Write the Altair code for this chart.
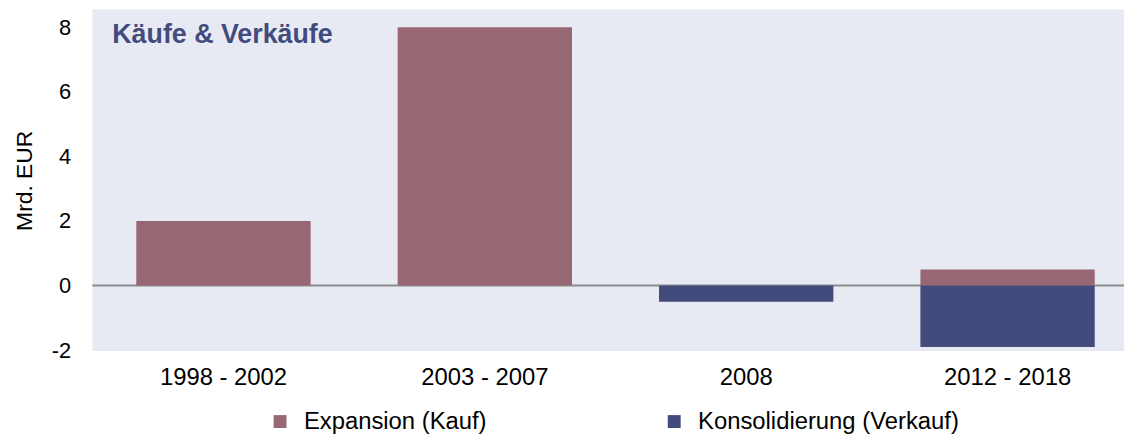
import altair as alt
import pandas as pd

categories = ["1998 - 2002", "2003 - 2007", "2008", "2012 - 2018"]
expansion = [2.0, 8.0, 0.0, 0.5]
konsolidierung = [0.0, 0.0, -0.5, -1.9]
series_names = ["Expansion (Kauf)", "Konsolidierung (Verkauf)"]
series_colors = ["#976873", "#434A7C"]
y_ticks = [-2, 0, 2, 4, 6, 8]

rows = []
for c, e, k in zip(categories, expansion, konsolidierung):
    rows.append({"cat": c, "series": series_names[0], "value": e})
    rows.append({"cat": c, "series": series_names[1], "value": k})
df = pd.DataFrame(rows)

FONT = "Liberation Sans"

x_enc = alt.X(
    "cat:N",
    sort=categories,
    scale=alt.Scale(paddingInner=0.333, paddingOuter=0.14, align=0.6),
    axis=alt.Axis(
        title=None, labelAngle=0, labelFontSize=24, labelColor="#000000",
        labelFont=FONT, tickSize=0, domain=False, labelPadding=15,
    ),
)
y_scale = alt.Scale(domain=[-2.03, 8.55], nice=False, zero=False)

bars = alt.Chart(df).mark_bar().encode(
    x=x_enc,
    y=alt.Y(
        "value:Q",
        stack=None,
        scale=y_scale,
        axis=alt.Axis(
            values=y_ticks, labelExpr="datum.value",
            title="Mrd. EUR", titleFontSize=23,
            titleFontWeight="normal", titleFont=FONT, titleColor="#000000",
            titleX=-68, titleY=172, titleBaseline="middle",
            labelFontSize=22, labelFont=FONT, labelColor="#000000",
            tickSize=0, domain=False, grid=False, labelPadding=22,
        ),
    ),
    color=alt.Color(
        "series:N",
        scale=alt.Scale(domain=series_names, range=series_colors),
        legend=alt.Legend(
            title=None, orient="none", legendX=177, legendY=403,
            direction="horizontal", symbolType="square", symbolSize=169,
            symbolStrokeWidth=0, labelFontSize=24, labelFont=FONT,
            labelColor="#000000", labelOffset=12, columnPadding=176,
            labelLimit=500, padding=0,
        ),
    ),
)

zero = alt.Chart(pd.DataFrame({"v": [0]})).mark_rule(
    color="#8C8C8C", strokeWidth=2
).encode(y=alt.Y("v:Q", scale=y_scale))

title = alt.Chart(pd.DataFrame({"t": ["Käufe & Verkäufe"]})).mark_text(
    align="left", baseline="alphabetic", fontSize=27, fontWeight="bold",
    font=FONT, color="#434A7E",
).encode(text="t:N", x=alt.value(20), y=alt.value(34))

chart = (
    alt.layer(zero, bars, title)
    .properties(
        width=1039, height=344,
        autosize=alt.AutoSizeParams(type="none"),
        padding={"left": 85, "top": 0, "right": 1, "bottom": 83},
        background="#FFFFFF",
    )
    .configure_view(fill="#E7EAF2", strokeWidth=0)
)

chart.save("out.html", embed_options={"renderer": "svg", "actions": False})
